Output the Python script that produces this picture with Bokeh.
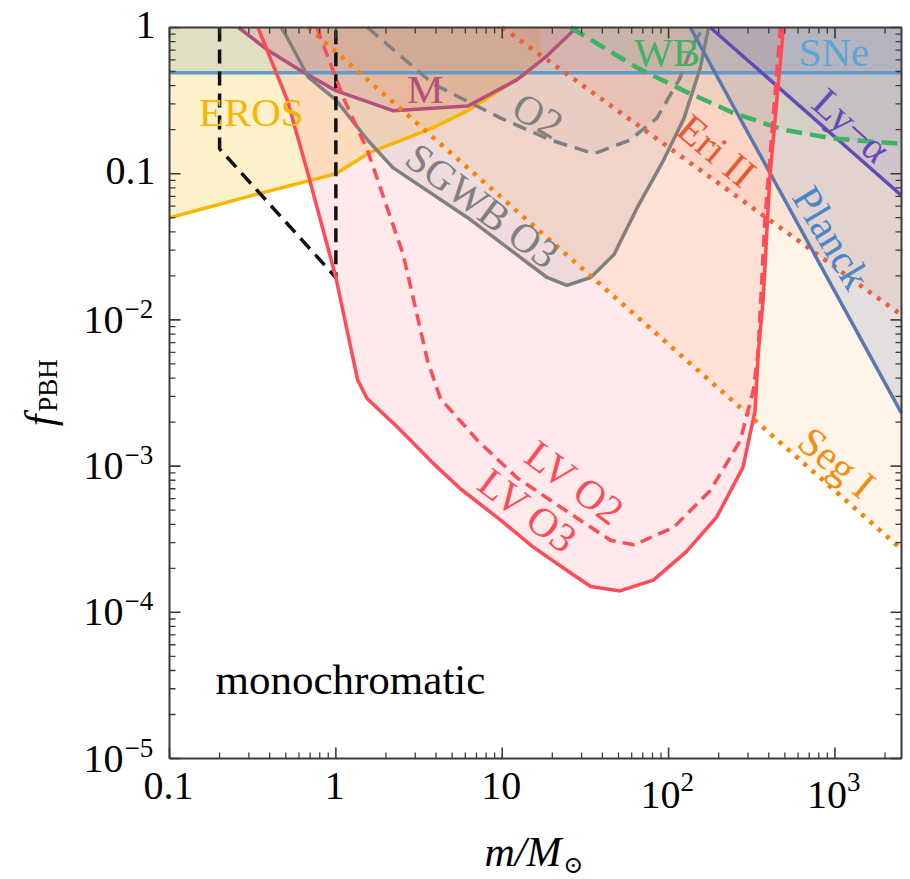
import numpy as np
from bokeh.plotting import figure
from bokeh.models import Range1d, ColumnDataSource
from bokeh.embed import file_html
from bokeh.resources import INLINE
from bokeh.core.properties import value

M_MIN, M_MAX = 0.1, 10 ** 3.4
F_MIN, F_MAX = 1e-5, 1.0

# ---------------- data ----------------
sne_m = [0.1, M_MAX]
sne_f = [0.49, 0.49]

eros_m = [0.1, 0.3, 1.0, 1.61, 3.86, 6.2, 14.1, 17.0]
eros_f = [0.05, 0.07, 0.1, 0.14, 0.207, 0.27, 0.49, 0.6]

m_m = [0.26, 0.39, 0.61, 1.0, 2.2, 6.2, 12.3, 18.6, 28.0]
m_f = [1.0, 0.70, 0.51, 0.37, 0.27, 0.29, 0.44, 0.64, 1.0]

hsc_m = [0.2, 0.2, 1.0, 1.0]
hsc_f = [1.0, 0.148, 0.0195, 1.0]

lvo3_m = [0.34, 0.51, 0.68, 1.0, 1.35, 1.54, 2.4, 3.86, 5.6, 9.7, 15.3, 24.5, 34, 51, 81, 128, 195, 280, 331, 347, 370, 406, 490]
lvo3_f = [1.0, 0.32, 0.1, 0.0195, 0.0039, 0.0029, 0.0018, 0.00104, 0.0007, 0.00043, 0.00028, 0.000193, 0.00015, 0.00014, 0.000166, 0.00026, 0.00045, 0.00098, 0.0024, 0.0062, 0.0136, 0.094, 1.0]

lvo2_m = [0.77, 0.81, 1.11, 1.55, 2.54, 3.1, 3.55, 4.25, 7.1, 12.3, 31, 45, 62, 107, 178, 270, 323, 345, 380, 470]
lvo2_f = [1.0, 0.85, 0.33, 0.144, 0.028, 0.0104, 0.0053, 0.0029, 0.0015, 0.00083, 0.00041, 0.00031, 0.00029, 0.00038, 0.00068, 0.0015, 0.0033, 0.006, 0.05, 1.0]

sgwb3_m = [0.47, 0.51, 0.68, 1.0, 1.55, 2.2, 6.2, 18.6, 24.5, 34, 47, 65, 93, 124, 155, 174]
sgwb3_f = [1.0, 0.855, 0.46, 0.32, 0.17, 0.11, 0.05, 0.0195, 0.0172, 0.0195, 0.028, 0.059, 0.123, 0.24, 0.53, 1.0]

sgwb2_m = [1.55, 3.86, 9.8, 19.5, 35.6, 58.6, 85, 117, 141, 163]
sgwb2_f = [1.0, 0.41, 0.24, 0.17, 0.137, 0.17, 0.24, 0.45, 0.78, 1.0]

segi_m = [0.68, M_MAX]
segi_f = [1.0, 0.00027]

eri_m = [10.0, M_MAX]
eri_f = [1.0, 0.0108]

lya_m = [178, M_MAX]
lya_f = [1.0, 0.071]

planck_m = [135, M_MAX]
planck_f = [1.0, 0.0023]

wb_m = [25.7, 65, 123, 246, 490, 977, M_MAX]
wb_f = [1.0, 0.53, 0.37, 0.26, 0.2, 0.174, 0.16]

# label texts and their anchor (data coords)
lab_text = ["EROS", "M", "O2", "SGWB O3", "WB", "SNe", "Ly\u2212\u03b1", "Eri II", "Planck", "Seg I", "LV O2", "LV O3"]
lab_m = [0.31, 3.45, 16.4, 7.6, 98, 986, 1260, 195, 955, 1028, 27.4, 14.3]
lab_f = [0.266, 0.377, 0.25, 0.0606, 0.685, 0.685, 0.214, 0.144, 0.0366, 0.00106, 0.00077, 0.000497]
lab_deg = [0, 0, -30, -37, 0, 0, -42, -40, -59, -40, -37, -37]

x_major = [0.1, 1, 10, 100, 1000]
x_major_text = ["0.1", "1", "10", "10", "10"]
x_major_exp = ["", "", "", "2", "3"]
y_major = [1.0, 0.1, 1e-2, 1e-3, 1e-4, 1e-5]
y_major_text = ["1", "0.1", "10", "10", "10", "10"]
y_major_exp = ["", "", "\u22122", "\u22123", "\u22124", "\u22125"]

# ---------------- colors ----------------
C_EROS = "#f5b700"
C_M = "#b4507d"
C_SNE = "#5f9bcd"
C_LV = "#ff4b57"
C_GREY = "#808080"
C_WB = "#3cb464"
C_LYA = "#644bb4"
C_ERI = "#e8603c"
C_SEG = "#ff8000"
C_PLANCK = "#5a78af"
C_AX = "#3a3a3a"

lab_color = [C_EROS, C_M, C_GREY, C_GREY, C_WB, "#5aa5d8", C_LYA, "#e65a32", "#4a86c8", "#f58c14", C_LV, C_LV]

# ---------------- layout: the plot box inside a full-canvas frame ----------------
W, H = 910, 879
BOX_L, BOX_R, BOX_T, BOX_B = 169, 901, 27, 758
dec_x = (BOX_R - BOX_L) / (np.log10(M_MAX) - np.log10(M_MIN))
dec_y = (BOX_B - BOX_T) / (np.log10(F_MAX) - np.log10(F_MIN))
x_lo = 10 ** (np.log10(M_MIN) - BOX_L / dec_x)
x_hi = 10 ** (np.log10(M_MAX) + (W - BOX_R) / dec_x)
y_lo = 10 ** (np.log10(F_MIN) - (H - BOX_B) / dec_y)
y_hi = 10 ** (np.log10(F_MAX) + BOX_T / dec_y)

p = figure(width=W, height=H, x_axis_type="log", y_axis_type="log",
           x_range=Range1d(x_lo, x_hi), y_range=Range1d(y_lo, y_hi),
           x_axis_location=None, y_axis_location=None,
           output_backend="svg", toolbar_location=None, min_border=0)
p.xgrid.visible = False
p.ygrid.visible = False
p.outline_line_color = None
p.background_fill_color = "white"
p.border_fill_color = "white"

# ---------------- fills ----------------
def above(ms, fs, close_right=False):
    xs = list(ms)
    ys = list(fs)
    if close_right:
        xs += [M_MAX]
        ys += [F_MAX]
    return xs, ys


def fill(ms, fs, color, alpha):
    p.patch(ms, fs, fill_color=color, fill_alpha=alpha, line_color=None)


fill(sne_m + [M_MAX, 0.1], sne_f + [F_MAX, F_MAX], C_SNE, 0.22)
fill(eros_m + [eros_m[-1], eros_m[0]], eros_f + [F_MAX, F_MAX], C_EROS, 0.2)
fill(m_m, m_f, C_M, 0.15)
fill(lvo3_m, lvo3_f, C_LV, 0.12)
fill(sgwb3_m, sgwb3_f, C_GREY, 0.13)
fill(sgwb2_m, sgwb2_f, C_GREY, 0.07)
fill(*above(segi_m, segi_f, True), C_SEG, 0.09)
fill(*above(eri_m, eri_f, True), C_ERI, 0.1)
fill(*above(planck_m, planck_f, True), C_PLANCK, 0.16)
fill(*above(lya_m, lya_f, True), C_LYA, 0.12)
fill(*above(wb_m, wb_f, True), C_WB, 0.08)

# ---------------- lines ----------------
p.line(sne_m, sne_f, line_color=C_SNE, line_width=3.5)
p.line(eros_m, eros_f, line_color=C_EROS, line_width=3.5)
p.line(m_m, m_f, line_color=C_M, line_width=3.5)
p.line(sgwb3_m, sgwb3_f, line_color=C_GREY, line_width=3.5)
p.line(sgwb2_m, sgwb2_f, line_color=C_GREY, line_width=3.5, line_dash="14 8")
p.line(hsc_m, hsc_f, line_color="#111111", line_width=3.5, line_dash="14 8")
p.line(segi_m, segi_f, line_color=C_SEG, line_width=4.5, line_dash="4 7")
p.line(eri_m, eri_f, line_color=C_ERI, line_width=4.5, line_dash="4 7")
p.line(planck_m, planck_f, line_color=C_PLANCK, line_width=3.5)
p.line(lya_m, lya_f, line_color=C_LYA, line_width=3.5)
p.line(wb_m, wb_f, line_color=C_WB, line_width=4.5, line_dash="16 8")
p.line(lvo2_m, lvo2_f, line_color=C_LV, line_width=3.5, line_dash="12 7")
p.line(lvo3_m, lvo3_f, line_color=C_LV, line_width=3.5)

# ---------------- plot box and inward ticks (through the log scales) ----------------
p.line([M_MIN, M_MAX, M_MAX, M_MIN, M_MIN], [F_MIN, F_MIN, F_MAX, F_MAX, F_MIN],
       line_color=C_AX, line_width=2)

x_minor = [k * 10.0 ** d for d in range(-1, 4) for k in range(2, 10) if k * 10.0 ** d < M_MAX]
y_minor = [k * 10.0 ** d for d in range(-5, 0) for k in range(2, 10)]


def ticks(xv, yv, length, width):
    ky = 10 ** (length / dec_y)
    kx = 10 ** (length / dec_x)
    n = len(xv)
    p.segment(x0=xv, y0=[F_MIN] * n, x1=xv, y1=[F_MIN * ky] * n, line_color=C_AX, line_width=width)
    p.segment(x0=xv, y0=[F_MAX] * n, x1=xv, y1=[F_MAX / ky] * n, line_color=C_AX, line_width=width)
    m = len(yv)
    p.segment(x0=[M_MIN] * m, y0=yv, x1=[M_MIN * kx] * m, y1=yv, line_color=C_AX, line_width=width)
    p.segment(x0=[M_MAX] * m, y0=yv, x1=[M_MAX / kx] * m, y1=yv, line_color=C_AX, line_width=width)


ticks(x_major, y_major, 11, 1.6)
ticks(x_minor, y_minor, 6, 1.3)

# ---------------- in-plot labels ----------------
SERIF = value("Liberation Serif")
src = ColumnDataSource(dict(x=lab_m, y=lab_f, text=lab_text,
                            angle=list(np.deg2rad(lab_deg)), color=lab_color))
p.text(x="x", y="y", text="text", angle="angle", text_color="color", source=src,
       text_font=SERIF, text_font_size="41px", text_align="center", text_baseline="middle")

p.text(x=[M_MIN], y=[F_MIN], text=["monochromatic"], x_offset=46, y_offset=-79,
       text_font=SERIF, text_font_size="43px", text_align="left",
       text_baseline="middle", text_color="black")

# ---------------- tick labels ----------------
ny = len(y_major)
y_plain = [t if e == "" else "" for t, e in zip(y_major_text, y_major_exp)]
y_base = [t if e != "" else "" for t, e in zip(y_major_text, y_major_exp)]
p.text(x=[M_MIN] * ny, y=y_major, text=y_plain, x_offset=-14, y_offset=-3,
       text_font=SERIF, text_font_size="40px", text_align="right", text_baseline="middle",
       text_color="black")
p.text(x=[M_MIN] * ny, y=y_major, text=y_base, x_offset=-46, y_offset=0,
       text_font=SERIF, text_font_size="40px", text_align="right", text_baseline="middle",
       text_color="black")
p.text(x=[M_MIN] * ny, y=y_major, text=y_major_exp, x_offset=-45, y_offset=-11,
       text_font=SERIF, text_font_size="27px", text_align="left", text_baseline="middle",
       text_color="black")

nx = len(x_major)
x_plain = [t if e == "" else "" for t, e in zip(x_major_text, x_major_exp)]
x_base = [t if e != "" else "" for t, e in zip(x_major_text, x_major_exp)]
p.text(x=x_major, y=[F_MIN] * nx, text=x_plain, x_offset=-1, y_offset=27,
       text_font=SERIF, text_font_size="40px", text_align="center", text_baseline="middle",
       text_color="black")
p.text(x=x_major, y=[F_MIN] * nx, text=x_base, x_offset=12, y_offset=36,
       text_font=SERIF, text_font_size="40px", text_align="right", text_baseline="middle",
       text_color="black")
p.text(x=x_major, y=[F_MIN] * nx, text=x_major_exp, x_offset=12, y_offset=23,
       text_font=SERIF, text_font_size="27px", text_align="left", text_baseline="middle",
       text_color="black")

# ---------------- axis titles ----------------
p.text(x=[M_MIN], y=[F_MIN], text=["m/M"], x_offset=392, y_offset=93,
       text_font=SERIF, text_font_style="italic", text_font_size="42px",
       text_align="right", text_baseline="middle", text_color="black")
p.text(x=[M_MIN], y=[F_MIN], text=["\u2299"], x_offset=394, y_offset=106,
       text_font=value("DejaVu Serif"), text_font_size="24px",
       text_align="left", text_baseline="middle", text_color="black")
p.text(x=[M_MIN], y=[F_MIN], text=["f"], x_offset=-130, y_offset=-338, angle=np.pi / 2,
       text_font=SERIF, text_font_style="italic", text_font_size="42px",
       text_align="center", text_baseline="middle", text_color="black")
p.text(x=[M_MIN], y=[F_MIN], text=["PBH"], x_offset=-122, y_offset=-373, angle=np.pi / 2,
       text_font=SERIF, text_font_size="27px",
       text_align="center", text_baseline="middle", text_color="black")

open("out.html", "w").write(file_html(p, INLINE))
